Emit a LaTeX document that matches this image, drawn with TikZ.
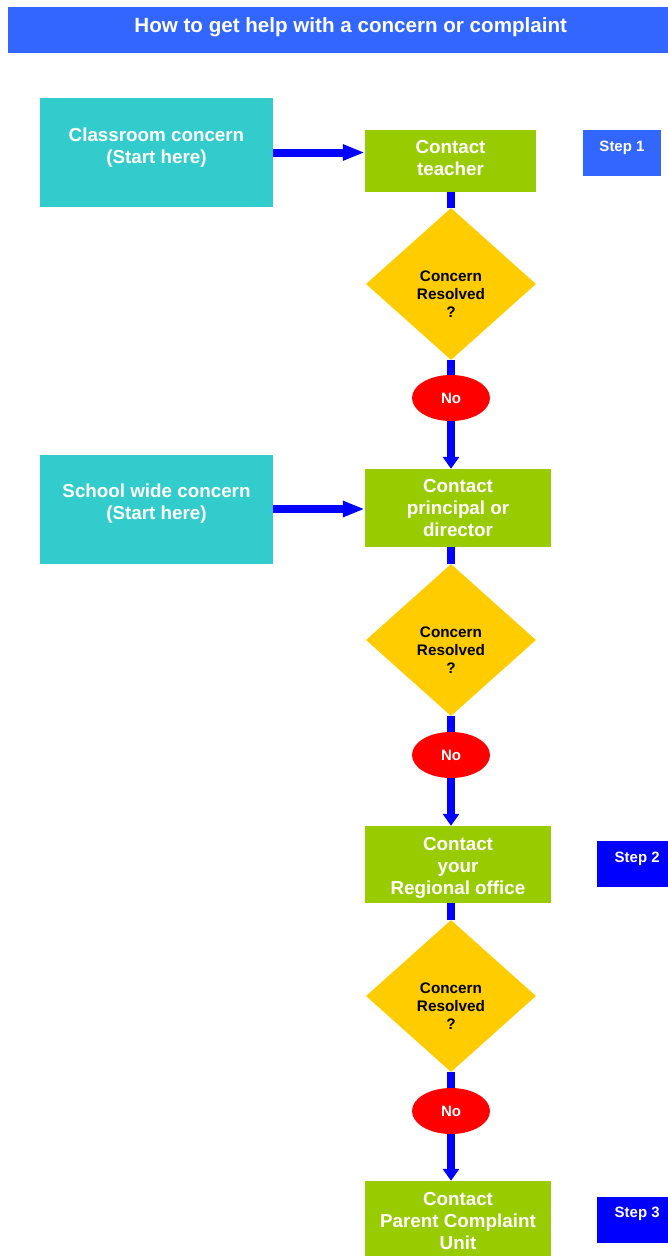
\documentclass[tikz,border=0pt]{standalone}
\usepackage{fontspec}
\setmainfont{Liberation Sans}
\usepackage{tikz}
\usetikzlibrary{shapes.geometric,arrows.meta}
\definecolor{barblue}{HTML}{3366FF}
\definecolor{stepblue}{HTML}{0000FF}
\definecolor{flowblue}{HTML}{0000FF}
\definecolor{startteal}{HTML}{33CCCC}
\definecolor{actgreen}{HTML}{99CC00}
\definecolor{checkyellow}{HTML}{FFCC00}
\definecolor{nored}{HTML}{FF0000}

\begin{document}
\begin{tikzpicture}[x=1pt,y=-1pt,
    startbox/.style={fill=startteal,text=white,font=\bfseries\fontsize{18.8}{22}\selectfont,align=center,minimum width=233pt,minimum height=109pt,inner sep=0pt},
    actbox/.style={fill=actgreen,text=white,font=\bfseries\fontsize{18.8}{22}\selectfont,align=center,inner sep=0pt},
    check/.style={diamond,aspect=1.12,fill=checkyellow,font=\bfseries\fontsize{15.3}{18}\selectfont,align=center,minimum width=170pt,minimum height=152pt,inner sep=0pt},
    nobubble/.style={ellipse,fill=nored,text=white,font=\bfseries\fontsize{15}{16}\selectfont,minimum width=78pt,minimum height=46pt,inner sep=0pt},
    stepbox/.style={fill=#1,text=white,font=\bfseries\fontsize{15}{16}\selectfont,minimum height=46pt,inner ysep=0pt,text height=21pt,text depth=25pt},
    link/.style={draw=flowblue,line width=8pt},
    flow/.style={link,-{Triangle[width=16pt,length=12pt]}},
    feed/.style={link,-{Triangle[width=15pt,length=22pt]}}]
\useasboundingbox (0,0) rectangle (667,1256);
\node[fill=barblue,text=white,font=\bfseries\fontsize{20.6}{24}\selectfont,minimum width=685pt,inner ysep=0pt,text height=25pt,text depth=21pt,anchor=west] (title) at (8,30) {How to get help with a concern or complaint};

\node[startbox] (classroom) at (156.5,152.5) {Classroom concern\\(Start here)\\[-8pt]};
\node[actbox,minimum width=171pt,minimum height=62pt] (teacher) at (450.5,161) {Contact\\teacher\\[-16pt]};
\node[stepbox=barblue,minimum width=78pt] (step1) at (622,153) {Step 1};
\node[check] (d1) at (451,284) {\\[12pt]Concern\\Resolved\\?};
\node[nobubble] (no1) at (451,398) {No};

\node[startbox] (school) at (156.5,509) {School wide concern\\(Start here)\\[-8pt]};
\node[actbox,minimum width=186pt,minimum height=78pt] (principal) at (458,508) {Contact\\principal or\\director};
\node[check] (d2) at (451,640) {\\[12pt]Concern\\Resolved\\?};
\node[nobubble] (no2) at (451,755) {No};

\node[actbox,minimum width=186pt,minimum height=77pt] (regional) at (458,864.5) {\\[-2pt]Contact\\your\\Regional office};
\node[stepbox=stepblue,minimum width=80pt,anchor=west] (step2) at (597,864) {Step 2};
\node[check] (d3) at (451,996) {\\[12pt]Concern\\Resolved\\?};
\node[nobubble] (no3) at (451,1111) {No};

\node[actbox,minimum width=186pt,minimum height=80pt] (pcu) at (458,1221) {Contact\\Parent Complaint\\Unit};
\node[stepbox=stepblue,minimum width=80pt,anchor=west] (step3) at (597,1219.5) {Step 3};

\draw[feed] (classroom.east) -- (classroom.east -| teacher.west);
\draw[feed] (school.east) -- (school.east -| principal.west);
\foreach \act/\chk/\no/\next in {teacher/d1/no1/principal,principal/d2/no2/regional,regional/d3/no3/pcu} {
    \draw[link] (\chk.north |- \act.south) -- (\chk.north);
    \draw[link] (\chk.south) -- (\no.north);
    \draw[flow] (\no.south) -- (\no.south |- \next.north);
}
\end{tikzpicture}
\end{document}
